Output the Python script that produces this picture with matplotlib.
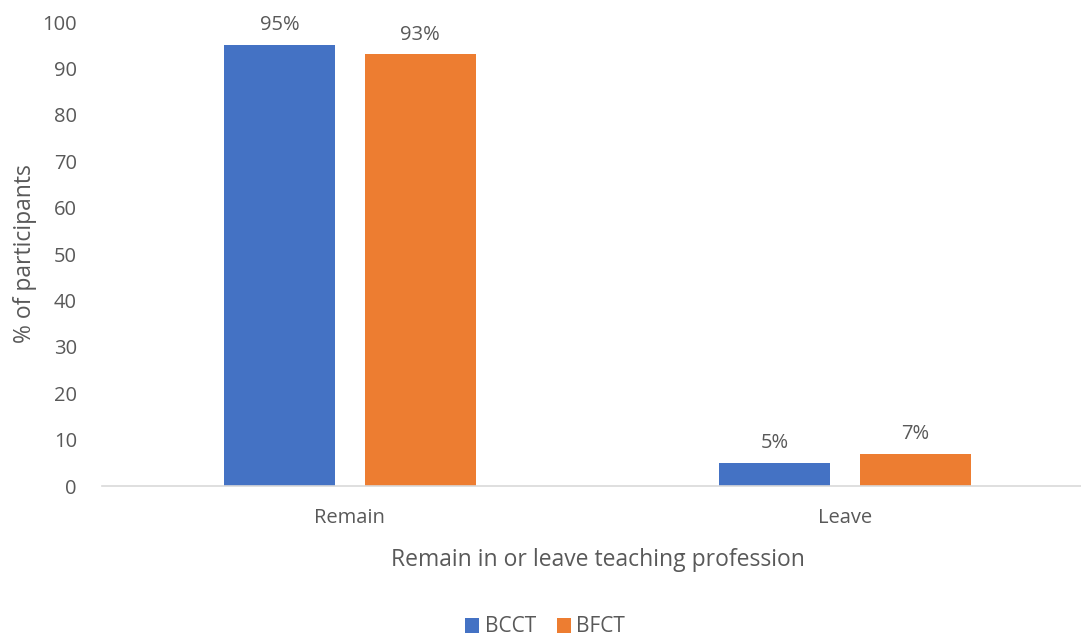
import numpy as np
import matplotlib.pyplot as plt

categories = ['Remain', 'Leave']
series_names = ['BCCT', 'BFCT']
bcct = [95, 5]
bfct = [93, 7]
colors = ['#4472C4', '#ED7D31']
text_color = '#595959'

plt.rcParams['font.family'] = ['Open Sans', 'DejaVu Sans']

fig = plt.figure(figsize=(10.81, 6.37), dpi=100)
ax = fig.add_axes([102 / 1081, 151 / 637, 991 / 1081, 464 / 637])

x = np.arange(len(categories))
width = 0.224
offset = 0.142
for vals, name, col, dx in zip([bcct, bfct], series_names, colors, [-offset, offset]):
    bars = ax.bar(x + dx, vals, width, color=col, label=name, zorder=2)
    for b, v in zip(bars, vals):
        ax.annotate(f'{v}%', (b.get_x() + b.get_width() / 2, v),
                    xytext=(0, 7), textcoords='offset points',
                    ha='center', va='bottom', fontsize=14.5, color=text_color)

ax.set_xlim(-0.5, 1.5)
ax.set_ylim(0, 100)
ax.set_yticks(range(0, 101, 10))
ax.set_xticks(x)
ax.set_xticklabels(categories)
ax.tick_params(axis='both', length=0, labelsize=14.5, colors=text_color)
ax.tick_params(axis='x', pad=16)
ax.tick_params(axis='y', pad=18)

for s in ['top', 'right', 'left']:
    ax.spines[s].set_visible(False)
ax.spines['bottom'].set_color('#D9D9D9')
ax.spines['bottom'].set_linewidth(1.2)

ax.set_xlabel('Remain in or leave teaching profession', fontsize=16.5, color=text_color, labelpad=14)
ax.set_ylabel('% of participants', fontsize=16.5, color=text_color, labelpad=4)

fig.legend(loc='center', bbox_to_anchor=(545 / 1081, 10 / 637), ncol=2, frameon=False,
           fontsize=15, handlelength=0.7, handleheight=0.7, handletextpad=0.25,
           columnspacing=1.0, labelcolor=text_color)

fig.savefig('out.png', dpi=100)
